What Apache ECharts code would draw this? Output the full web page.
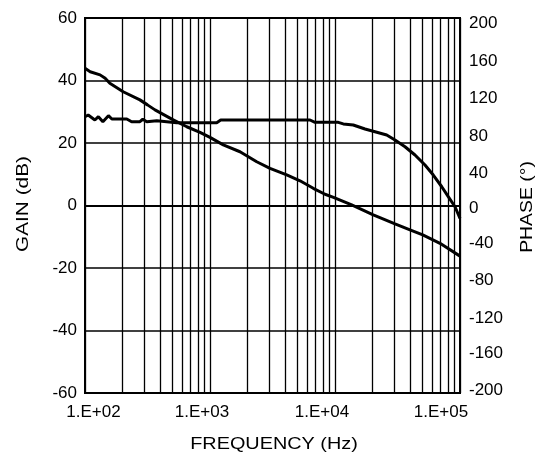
<!DOCTYPE html>
<html>
<head>
<meta charset="utf-8">
<script src="https://cdn.jsdelivr.net/npm/echarts@6/dist/echarts.min.js"></script>
<style>
html,body{margin:0;padding:0;background:#fff;}
#c{width:545px;height:457px;}
</style>
</head>
<body>
<div id="c"></div>
<script>
// Gain (dB) vs frequency (Hz)
var gainFreq = [100, 110, 132, 145, 158, 202, 275, 316, 363, 508, 652, 832, 1000, 1277, 1738, 2364, 3020, 4111, 5248, 6699, 8318, 9727, 13600, 20230, 30200, 39800, 50350, 69180, 100000];
var gainDb   = [43.9, 42.8, 41.8, 40.7, 39.1, 36.4, 33.8, 32.2, 30.6, 27.4, 25.2, 23.4, 21.8, 19.4, 17.2, 14.0, 11.9, 9.8, 7.9, 5.5, 3.6, 2.6, 0.2, -3.0, -5.9, -7.8, -9.4, -12.1, -16.2];
// Phase (deg) vs frequency (Hz)
var phaseFreq = [100, 106, 120, 128, 139, 154, 164, 216, 236, 275, 290, 312, 375, 541, 1132, 1218, 6310, 6918, 10620, 11650, 14000, 17380, 20890, 25920, 30200, 36310, 43650, 52480, 61130, 71450, 80540, 91200, 100000];
var phaseDeg  = [94.7, 96.5, 91.2, 94.7, 89.4, 95.8, 92.3, 92.3, 89.4, 89.4, 92, 89.4, 90.5, 88.3, 88.3, 91.2, 91.2, 88.7, 88.7, 87, 85.9, 81.6, 78.7, 75.2, 69.9, 62.7, 53.9, 43.2, 32.5, 20, 9.4, -1.3, -13.7];
// Minor log grid lines
var minorGrid = [200,300,400,500,600,700,800,900,2000,3000,4000,5000,6000,7000,8000,9000,20000,30000,40000,50000,60000,70000,80000,90000];
var xTickLabels = {100: '1.E+02', 1000: '1.E+03', 10000: '1.E+04', 100000: '1.E+05'};
var xTitle = 'FREQUENCY (Hz)';
var yLeftTitle = 'GAIN (dB)';
var yRightTitle = 'PHASE (°)';

function zip(a, b) { return a.map(function (v, i) { return [v, b[i]]; }); }

var FONT = '"Liberation Sans", Arial, Helvetica, sans-serif';
var base = {fontFamily: FONT, fontSize: 17, color: '#000'};
function rs(p) { return Object.assign({}, base, {padding: p}); }

var chart = echarts.init(document.getElementById('c'), null, {renderer: 'canvas'});
chart.setOption({
  animation: false,
  backgroundColor: '#fff',
  grid: {left: 85, right: 85, top: 18, bottom: 64, show: true, borderColor: '#000', borderWidth: 2, backgroundColor: 'transparent'},
  xAxis: {
    type: 'log', logBase: 10, min: 100, max: 100000,
    axisLine: {show: true, lineStyle: {color: '#000', width: 2}},
    axisTick: {show: false},
    splitLine: {show: true, lineStyle: {color: '#000', width: 1.3}},
    axisLabel: {
      showMinLabel: true, showMaxLabel: true, margin: 11,
      fontFamily: FONT, fontSize: 17, color: '#000',
      formatter: function (v) {
        var k = Math.round(v);
        var t = xTickLabels[k] || '';
        if (k === 100) return '{a|' + t + '}';
        if (k === 1000) return '{b|' + t + '}';
        if (k === 10000) return '{c|' + t + '}';
        if (k === 100000) return '{d|' + t + '}';
        return t;
      },
      rich: {
        a: rs([0, 0, 0, 17]),
        b: rs([0, 16, 0, 0]),
        c: rs([0, 26, 0, 0]),
        d: rs([0, 38, 0, 0])
      }
    }
  },
  yAxis: [{
    type: 'value', min: -60, max: 60, interval: 20, position: 'left',
    axisLine: {show: true, lineStyle: {color: '#000', width: 2}},
    axisTick: {show: false},
    splitLine: {show: true, lineStyle: {color: '#000', width: 1.5}},
    axisLabel: {margin: 8, fontFamily: FONT, fontSize: 17, color: '#000'}
  }, {
    type: 'value', min: -200, max: 200, interval: 40, position: 'right',
    axisLine: {show: true, lineStyle: {color: '#000', width: 2}},
    axisTick: {show: false},
    splitLine: {show: false},
    axisLabel: {
      margin: 9, fontFamily: FONT, fontSize: 17, color: '#000',
      formatter: function (v) {
        if (v >= 40) return '{s|' + v + '}';
        if (v === 0) return '{t|' + v + '}';
        if (v <= -160) return '{u|' + v + '}';
        return String(v);
      },
      rich: {
        s: rs([11, 0, 0, 0]),
        t: rs([5, 0, 0, 0]),
        u: rs([0, 0, 5, 0])
      }
    }
  }],
  graphic: [{
    type: 'text', x: 24, y: 204, rotation: Math.PI / 2, scaleX: 1.3,
    style: {text: yLeftTitle, font: '16px ' + FONT, fill: '#000', align: 'center', verticalAlign: 'middle'}
  }, {
    type: 'text', x: 528, y: 207, rotation: Math.PI / 2, scaleX: 1.21,
    style: {text: yRightTitle, font: '16px ' + FONT, fill: '#000', align: 'center', verticalAlign: 'middle'}
  }, {
    type: 'text', x: 274, y: 445, scaleX: 1.24,
    style: {text: xTitle, font: '16px ' + FONT, fill: '#000', align: 'center', verticalAlign: 'middle'}
  }],
  series: [{
    type: 'line', name: 'Gain', yAxisIndex: 0,
    data: zip(gainFreq, gainDb),
    showSymbol: false, symbol: 'none',
    lineStyle: {color: '#000', width: 3},
    markLine: {
      silent: true, symbol: ['none', 'none'], label: {show: false},
      lineStyle: {color: '#000', width: 1.3, type: 'solid'},
      data: minorGrid.map(function (f) { return {xAxis: f}; })
    },
    z: 3
  }, {
    type: 'line', name: 'Phase', yAxisIndex: 1,
    data: zip(phaseFreq, phaseDeg),
    showSymbol: false, symbol: 'none',
    lineStyle: {color: '#000', width: 3},
    z: 3
  }]
});
</script>
</body>
</html>
